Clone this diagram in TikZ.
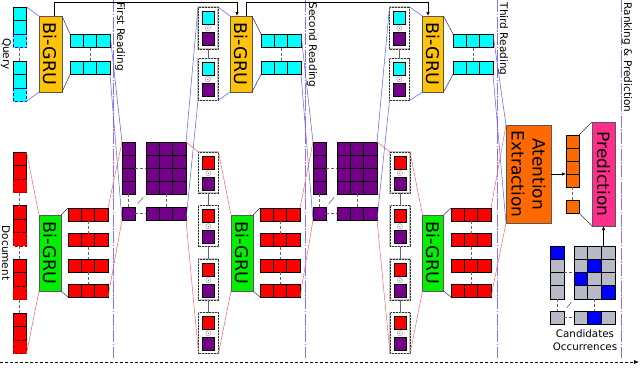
\documentclass[tikz,border=0pt]{standalone}
\usepackage{fontspec}
\setmainfont{DejaVu Sans}
\usetikzlibrary{arrows.meta,calc}
\definecolor{cyanc}{HTML}{00FFFF}
\definecolor{vio}{HTML}{74008A}
\definecolor{redc}{HTML}{FF0000}
\definecolor{yelc}{HTML}{FFC20A}
\definecolor{grnc}{HTML}{00F000}
\definecolor{orgc}{HTML}{FF6A00}
\definecolor{pnkc}{HTML}{FF2D8C}
\definecolor{grc}{HTML}{B8BAC8}
\definecolor{bluc}{HTML}{0000FF}
\definecolor{qlc}{HTML}{5A5AFF}
\definecolor{dlc}{HTML}{FF6464}
\definecolor{sepviolet}{rgb}{0.58,0.42,1.0}
\newcommand{\grufont}{\fontsize{17.5}{21}\selectfont}
\newcommand{\lblfont}{\fontsize{10.5}{13}\selectfont}
\newcommand{\mkgrid}[8]{%
  \node[gridbox, fill=#8, minimum width={#4*#6}, minimum height={#5*#7}, anchor=north west] (#1) at (#2,#3) {};
  \foreach \gcx in {1,...,#4}{\foreach \gcy in {1,...,#5}{%
    \draw[cellline] ({#2+(\gcx-1)*#6},{#3+(\gcy-1)*#7}) rectangle ++(#6,#7);}}%
}
\newcommand{\mkin}[5]{%
  \node[inbox, fill=#4, minimum width=13.5, minimum height=40.5, anchor=north west] (#1) at (#2,#3) {};
  \draw[cellline] (#2,#3) rectangle ++(13.5,13.5);
  \draw[cellline] (#2,{#3+13.5}) rectangle ++(13.5,13.5);
  \draw[#5, densely dashed, line width=0.7pt] (#2,{#3+27}) rectangle ++(13.5,13.5);
}
\newcommand{\mkpair}[5]{%
  \node[pairframe, minimum width=20, minimum height=#4, anchor=north west] (#1) at (#2,#3) {};
  \draw[cellline, fill=#5] ({#2+4},{#3+4}) rectangle ++(12,13);
  \node[inner sep=0, font=\scriptsize] (#1o) at ({#2+10},{#3+21.3}) {$\odot$};
  \draw[cellline, fill=vio] ({#2+4},{#3+25}) rectangle ++(12,13);
}
\newcommand{\mkgru}[6]{%
  \node[grubox, fill=#5, minimum width=#4, minimum height=#6, anchor=north west] (#1) at (#2,#3) {};
}
\begin{document}
\begin{tikzpicture}[x=1pt,y=-1pt,
  gridbox/.style={rectangle, draw=gray!60, line width=1pt, inner sep=0, outer sep=0},
  inbox/.style={rectangle, inner sep=0, outer sep=0},
  cellline/.style={draw=black, line width=0.9pt},
  pairframe/.style={rectangle, fill=white, draw=gray!45, line width=1.4pt, inner sep=0, outer sep=0,
    postaction={draw=black!80, line width=0.5pt, densely dotted}},
  grubox/.style={rectangle, draw=gray!70!black, line width=0.6pt, inner sep=0, outer sep=0},
  grutext/.style={rotate=-90, font=\grufont, inner sep=0},
  qline/.style={draw=qlc, line width=0.5pt},
  dline/.style={draw=dlc, line width=0.5pt},
  gline/.style={draw=gray!40!black, line width=0.5pt},
  dashc/.style={draw=black!60, densely dashed, line width=0.6pt},
  solc/.style={draw=black!60, line width=0.6pt},
  readline/.style={color=sepviolet, line width=1pt, dash pattern=on 12pt off 1.5pt on 1.5pt off 1.5pt},
  readlbl/.style={rotate=-90, anchor=west, font=\lblfont, inner sep=0},
  toparrow/.style={draw=black, line width=0.7pt, -{Latex[length=4pt,width=3.5pt]}},
]
\useasboundingbox (0,0) rectangle (640,367);

% reading separators
\coordinate (r1t) at (113,0); \coordinate (r1b) at (113,358);
\coordinate (r2t) at (305,0); \coordinate (r2b) at (305,358);
\coordinate (r3t) at (497,0); \coordinate (r3b) at (497,358);
\coordinate (r4t) at (621,0); \coordinate (r4b) at (621,358);
\draw[readline] (r1t) -- (r1b);
\draw[readline] (r2t) -- (r2b);
\draw[readline] (r3t) -- (r3b);
\draw[readline] (r4t) -- (r4b);
\node[readlbl] (l1) at (120,2.5) {First Reading};
\node[readlbl] (l2) at (312,2.5) {Second Reading};
\node[readlbl] (l3) at (503,2.5) {Third Reading};
\node[readlbl] (l4) at (627,2.5) {Ranking \& Prediction};

% inputs
\mkin{qin1}{13}{7}{cyanc}{bluc}
\mkin{qin2}{13}{61}{cyanc}{bluc}
\mkin{din1}{13}{152}{redc}{red!60!black}
\mkin{din2}{13}{205.5}{redc}{red!60!black}
\mkin{din3}{13}{259}{redc}{red!60!black}
\mkin{din4}{13}{313}{redc}{red!60!black}
\node[rotate=-90, font=\lblfont, inner sep=0] (qlbl) at (6,54) {Query};
\node[rotate=-90, font=\lblfont, inner sep=0] (dlbl) at (6,253) {Document};

% GRUs
\mkgru{gq1}{39}{16}{23}{yelc}{76}
\mkgru{gd1}{39}{215}{22}{grnc}{76}
\mkgru{gq2}{230}{16}{22}{yelc}{76}
\mkgru{gd2}{231}{215}{22}{grnc}{76}
\mkgru{gq3}{422.5}{16}{21}{yelc}{76}
\mkgru{gd3}{422.5}{215}{21}{grnc}{76}
\node[grutext] (gq1t) at (gq1) {Bi-GRU};
\node[grutext] (gd1t) at (gd1) {Bi-GRU};
\node[grutext] (gq2t) at (gq2) {Bi-GRU};
\node[grutext] (gd2t) at (gd2) {Bi-GRU};
\node[grutext] (gq3t) at (gq3) {Bi-GRU};
\node[grutext] (gd3t) at (gd3) {Bi-GRU};

% GRU outputs
\mkgrid{q1a}{70}{34}{3}{1}{13.333}{13.5}{cyanc}
\mkgrid{q1b}{70}{61}{3}{1}{13.333}{13.5}{cyanc}
\mkgrid{d1a}{68}{208}{3}{1}{13.333}{13}{redc}
\mkgrid{d1b}{68}{233.5}{3}{1}{13.333}{13}{redc}
\mkgrid{d1c}{68}{259}{3}{1}{13.333}{13}{redc}
\mkgrid{d1d}{68}{284}{3}{1}{13.333}{13}{redc}
\mkgrid{q2a}{261}{34}{3}{1}{13.333}{13.5}{cyanc}
\mkgrid{q2b}{261}{61}{3}{1}{13.333}{13.5}{cyanc}
\mkgrid{d2a}{260}{208}{3}{1}{13.333}{13}{redc}
\mkgrid{d2b}{260}{233.5}{3}{1}{13.333}{13}{redc}
\mkgrid{d2c}{260}{259}{3}{1}{13.333}{13}{redc}
\mkgrid{d2d}{260}{284}{3}{1}{13.333}{13}{redc}
\mkgrid{q3a}{453}{34}{3}{1}{13.333}{13.5}{cyanc}
\mkgrid{q3b}{453}{61}{3}{1}{13.333}{13.5}{cyanc}
\mkgrid{d3a}{451}{208}{3}{1}{13.333}{13}{redc}
\mkgrid{d3b}{451}{233.5}{3}{1}{13.333}{13}{redc}
\mkgrid{d3c}{451}{259}{3}{1}{13.333}{13}{redc}
\mkgrid{d3d}{451}{284}{3}{1}{13.333}{13}{redc}

% attention matrices
\mkgrid{mAl}{122}{142}{1}{4}{13}{13}{vio}
\mkgrid{mAs}{122}{207}{1}{1}{13}{13}{vio}
\mkgrid{mAb}{146}{142}{3}{4}{13.333}{13}{vio}
\mkgrid{mAr}{146}{207}{3}{1}{13.333}{13}{vio}
\mkgrid{mBl}{313}{142}{1}{4}{13}{13}{vio}
\mkgrid{mBs}{313}{207}{1}{1}{13}{13}{vio}
\mkgrid{mBb}{337}{142}{3}{4}{13.333}{13}{vio}
\mkgrid{mBr}{337}{207}{3}{1}{13.333}{13}{vio}

% gated pairs
\mkpair{pq2a}{198}{7}{42}{cyanc}
\mkpair{pq2b}{198}{58.5}{42}{cyanc}
\mkpair{pd2a}{198.5}{152}{41}{redc}
\mkpair{pd2b}{198.5}{205.5}{41}{redc}
\mkpair{pd2c}{198.5}{259}{41}{redc}
\mkpair{pd2d}{198.5}{312.5}{41}{redc}
\mkpair{pq3a}{389.5}{7}{42}{cyanc}
\mkpair{pq3b}{389.5}{58.5}{42}{cyanc}
\mkpair{pd3a}{390}{152}{41}{redc}
\mkpair{pd3b}{390}{205.5}{41}{redc}
\mkpair{pd3c}{390}{259}{41}{redc}
\mkpair{pd3d}{390}{312.5}{41}{redc}

% ranking part
\node[grubox, fill=orgc, minimum width=45, minimum height=98, anchor=north west] (att) at (506,125) {};
\node[rotate=-90, font=\fontsize{17}{21}\selectfont, align=center, inner sep=0] (attt) at (att) {Atention\\Extraction};
\mkgrid{oc}{566}{135}{1}{4}{13}{13}{orgc}
\mkgrid{os}{566}{200}{1}{1}{13}{13}{orgc}
\node[grubox, fill=pnkc, minimum width=23, minimum height=104, anchor=north west] (pred) at (592,122) {};
\node[grutext, font=\fontsize{17}{21}\selectfont] (predt) at (pred) {Prediction};
\mkgrid{cl}{550}{246}{1}{4}{14}{13.25}{grc}
\mkgrid{cs}{550}{311}{1}{1}{14}{13.25}{grc}
\mkgrid{cb}{574}{246}{3}{4}{13.667}{13.25}{grc}
\mkgrid{cr}{574}{311}{3}{1}{13.667}{13.25}{grc}
\draw[cellline, fill=bluc] (550,246) rectangle ++(14,13.25);
\draw[cellline, fill=bluc] (587.667,259.25) rectangle ++(13.667,13.25);
\draw[cellline, fill=bluc] (574,272.5) rectangle ++(13.667,13.25);
\draw[cellline, fill=bluc] (601.333,285.75) rectangle ++(13.667,13.25);
\draw[cellline, fill=bluc] (587.667,311) rectangle ++(13.667,13.25);
\node[font=\fontsize{10.3}{13}\selectfont, align=center, inner sep=0] (cand) at (585,340) {Candidates\\Occurrences};

% stacked-item connectors
\draw[dashc] (qin1.south) -- (qin2.north);
\draw[dashc] (din1.south) -- (din2.north);
\draw[dashc] (din2.south) -- (din3.north);
\draw[dashc] (din3.south) -- (din4.north);
\foreach \s in {1,2,3}{
  \draw[dashc] (q\s a.south) -- (q\s b.north);
  \draw[dashc] (d\s a.south) -- (d\s b.north);
  \draw[dashc] (d\s b.south) -- (d\s c.north);
  \draw[dashc] (d\s c.south) -- (d\s d.north);
}
\foreach \s in {2,3}{
  \draw[solc] (pq\s a.south) -- (pq\s b.north);
  \draw[solc] (pd\s a.south) -- (pd\s b.north);
  \draw[solc] (pd\s b.south) -- (pd\s c.north);
  \draw[solc] (pd\s c.south) -- (pd\s d.north);
}
\foreach \m in {mA,mB,c}{
  \draw[dashc] (\m l.east) -- (\m b.west);
  \draw[dashc] (\m l.south) -- (\m s.north);
  \draw[dashc] (\m b.south) -- (\m r.north);
  \draw[dashc] (\m s.east) -- (\m r.west);
  \draw[solc] ($(\m s.north east)!0.25!(\m b.south west)$) -- ($(\m s.north east)!0.75!(\m b.south west)$);
}
\draw[dashc] (oc.south) -- (os.north);

% GRU -> outputs
\foreach \s in {1,2,3}{
  \draw[gline] (gq\s.north east) -- (q\s a.north west);
  \draw[gline] (gq\s.south east) -- (q\s b.south west);
  \draw[gline] (gd\s.north east) -- (d\s a.north west);
  \draw[gline] (gd\s.south east) -- (d\s d.south west);
}

% query flow (blue)
\draw[qline] (qin1.north east) -- (gq1.north west);
\draw[qline] (qin2.south east) -- (gq1.south west);
\draw[qline] (q1a.north east) -- (mAl.north west);
\draw[qline] (q1b.south east) -- (mAs.south west);
\draw[qline] (mAb.north east) -- (pq2a.north west);
\draw[qline] (mAr.south east) -- (pq2b.south west);
\draw[qline] (pq2a.north east) -- (gq2.north west);
\draw[qline] (pq2b.south east) -- (gq2.south west);
\draw[qline] (q2a.north east) -- (mBl.north west);
\draw[qline] (q2b.south east) -- (mBs.south west);
\draw[qline] (mBb.north east) -- (pq3a.north west);
\draw[qline] (mBr.south east) -- (pq3b.south west);
\draw[qline] (pq3a.north east) -- (gq3.north west);
\draw[qline] (pq3b.south east) -- (gq3.south west);
\draw[qline] (q3a.north east) -- (att.north west);
\draw[qline] (q3b.south east) -- (att.south west);

% document flow (red)
\draw[dline] (din1.north east) -- (gd1.north west);
\draw[dline] (din4.south east) -- (gd1.south west);
\draw[dline] (d1a.north east) -- (mAl.north west);
\draw[dline] (d1d.south east) -- (mAs.south west);
\draw[dline] (mAb.north east) -- (pd2a.north west);
\draw[dline] (mAr.south east) -- (pd2d.south west);
\draw[dline] (pd2a.north east) -- (gd2.north west);
\draw[dline] (pd2d.south east) -- (gd2.south west);
\draw[dline] (d2a.north east) -- (mBl.north west);
\draw[dline] (d2d.south east) -- (mBs.south west);
\draw[dline] (mBb.north east) -- (pd3a.north west);
\draw[dline] (mBr.south east) -- (pd3d.south west);
\draw[dline] (pd3a.north east) -- (gd3.north west);
\draw[dline] (pd3d.south east) -- (gd3.south west);
\draw[dline] (d3a.north east) -- (att.north west);
\draw[dline] (d3d.south east) -- (att.south west);

% ranking connectors
\draw[toparrow] (att.east) -- (att.east -| oc.west);
\draw[gline] (oc.north east) -- (pred.north west);
\draw[gline] (os.south east) -- (pred.south west);
\draw[toparrow] (cb.north -| pred.south) -- (pred.south);

% query state carried between readings
\draw[toparrow] ([xshift=4pt]gq1.north) -- ++(0,-14) -| ([xshift=-4pt]gq2.north);
\draw[toparrow] ([xshift=5pt]gq2.north) -- ++(0,-14) -| ([xshift=-5pt]gq3.north);

% time axis
\coordinate (ax0) at (0,362);
\coordinate (ax1) at (639,362);
\draw[black, densely dashed, line width=0.7pt, -{Latex[length=5pt,width=4pt]}] (ax0) -- (ax1);
\end{tikzpicture}
\end{document}
